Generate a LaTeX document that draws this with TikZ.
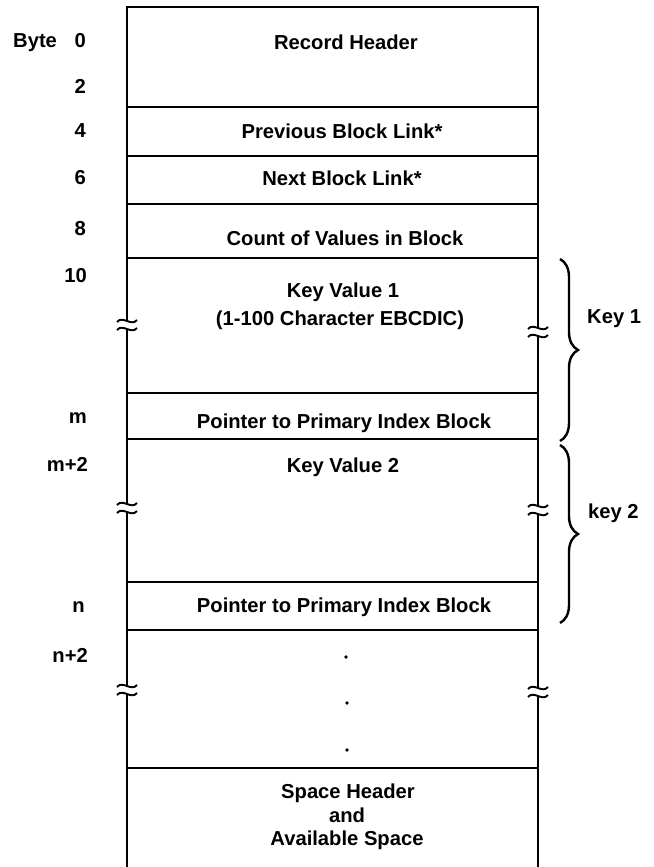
\documentclass[tikz,border=0pt]{standalone}
\usepackage{fontspec}
\setmainfont{Liberation Sans}
\usetikzlibrary{decorations.pathreplacing}
\begin{document}
\begin{tikzpicture}[x=1pt,y=1pt,
  lbl/.style={font=\bfseries\fontsize{20.2}{24}\selectfont, inner sep=0pt},
  offs/.style={lbl, anchor=base east},
  cell/.style={lbl, anchor=base},
  rowline/.style={line width=1.9pt},
  wall/.style={line width=2.3pt},
  brkline/.style={line width=1.9pt},
  kbrace/.style={decorate, decoration={brace, amplitude=18pt, aspect=0.5}, line width=2.4pt},
  brkmark/.pic={
    \fill[white] (-2.5,-4) rectangle (2.5,4);
    \draw[brkline] (-10,3) .. controls (-4,10) and (4,-2) .. (10,5);
    \draw[brkline] (-10,-5) .. controls (-4,2) and (4,-10) .. (10,-3);
  }]
\useasboundingbox (0,0) rectangle (653,-867);
% frame
\coordinate (TL) at (127,-7); \coordinate (TR) at (538,-7);
\coordinate (BL) at (127,-867); \coordinate (BR) at (538,-867);
\draw[wall] (BL) -- (TL) -- (TR) -- (BR);
\foreach \y [count=\i] in {107,156,204,258,393,439,582,630,768}{
  \coordinate (L\i) at (127,-\y);
  \coordinate (R\i) at (538,-\y);
  \draw[rowline] (L\i) -- (R\i);
}
% break marks
\pic at (127,-325) {brkmark};
\pic at (127,-508) {brkmark};
\pic at (127,-690) {brkmark};
\pic at (538,-332) {brkmark};
\pic at (538,-510) {brkmark};
\pic at (538,-692) {brkmark};
% offsets
\node[lbl, anchor=base west] (byte) at (13,-48) {Byte};
\node[offs] (o0) at (86,-48) {0};
\node[offs] (o2) at (86,-93) {2};
\node[offs] (o4) at (86,-137) {4};
\node[offs] (o6) at (86,-184) {6};
\node[offs] (o8) at (86,-235) {8};
\node[offs] (o10) at (87,-282) {10};
\node[offs] (om) at (87,-423) {m};
\node[offs] (om2) at (88,-471) {m+2};
\node[offs] (on) at (85,-612) {n};
\node[offs] (on2) at (88,-662) {n+2};
% cell texts
\node[cell] (rh) at (346,-50) {Record Header};
\node[cell] (pbl) at (342,-138) {Previous Block Link*};
\node[cell] (nbl) at (342,-185) {Next Block Link*};
\node[cell] (cnt) at (345,-245) {Count of Values in Block};
\node[cell] (kv1) at (343,-297) {Key Value 1};
\node[cell] (kv1b) at (340,-325) {(1-100 Character EBCDIC)};
\node[cell] (p1) at (344,-428) {Pointer to Primary Index Block};
\node[cell] (kv2) at (343,-472) {Key Value 2};
\node[cell] (p2) at (344,-612) {Pointer to Primary Index Block};
\node[cell] (sh1) at (348,-798) {Space Header};
\node[cell] (sh2) at (347,-822) {and};
\node[cell] (sh3) at (347,-845) {Available Space};
% dots
\fill (346,-657) circle (1.8);
\fill (347,-703) circle (1.8);
\fill (347,-750) circle (1.8);
% braces
\coordinate (b1t) at (560,-259); \coordinate (b1b) at (560,-441);
\coordinate (b2t) at (560,-445); \coordinate (b2b) at (560,-623);
\draw[kbrace] (b1t) -- (b1b);
\draw[kbrace] (b2t) -- (b2b);
\node[lbl, anchor=base west] (k1) at (587,-323) {Key 1};
\node[lbl, anchor=base west] (k2) at (588,-518) {key 2};
\end{tikzpicture}
\end{document}
